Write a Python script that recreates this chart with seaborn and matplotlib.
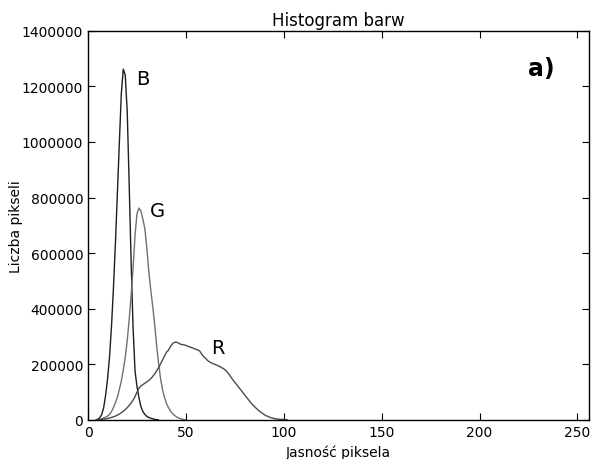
"""Colour histogram (B, G, R channels) recreated with seaborn."""

import matplotlib
matplotlib.use("Agg")
import matplotlib.pyplot as plt
import numpy as np
import pandas as pd
import seaborn as sns

# pixel counts per brightness bin (in thousands), only the non-zero stretch of each channel
b_start = 4
b_counts = [0, 2, 8, 20, 45, 90, 150, 230, 340, 480, 640, 820, 1000, 1175, 1262,
            1240, 1110, 850, 570, 330, 175, 120, 80, 48, 30, 20, 13, 9, 6, 4, 2, 1, 0]

g_start = 5
g_counts = [0, 2, 4, 7, 10, 14, 20, 30, 45, 62, 82, 110, 140, 180, 225, 285, 360,
            450, 545, 665, 742, 762, 752, 722, 688, 620, 535, 470, 410, 345, 270,
            205, 150, 110, 82, 60, 45, 33, 24, 17, 12, 8, 5, 3, 1, 0]

r_start = 5
r_counts = [0, 1, 2, 3, 4, 5, 7, 9, 11, 14, 17, 21, 26, 31, 37, 44, 52, 61, 71, 84,
            100, 114, 122, 127, 132, 137, 142, 148, 156, 165, 176, 188, 201, 215,
            229, 243, 250, 263, 273, 279, 280, 277, 273, 271, 270, 268, 265, 262,
            260, 257, 254, 252, 248, 237, 228, 222, 214, 209, 205, 202, 199, 196,
            193, 189, 185, 180, 173, 164, 154, 144, 135, 126, 117, 108, 99, 90, 81,
            72, 63, 55, 48, 41, 35, 29, 24, 19, 15, 12, 9, 7, 5, 4, 3, 2, 2, 1, 1, 0]

channels = ["B", "G", "R"]
line_colors = {"B": "#1e1e1e", "G": "#707070", "R": "#4a4a4a"}
label_pos = {"B": (24.5, 1228000), "G": (31.6, 752000), "R": (62.7, 262000)}


def to_frame(name, start, counts):
    counts = np.array(counts) * 1000
    return pd.DataFrame({"bin": np.arange(start, start + len(counts)),
                         "count": counts, "channel": name})


df = pd.concat([to_frame("B", b_start, b_counts),
                to_frame("G", g_start, g_counts),
                to_frame("R", r_start, r_counts)], ignore_index=True)

sns.set_style("ticks")
plt.rcParams["font.family"] = ["DejaVu Sans"]
plt.rcParams["xtick.direction"] = "in"
plt.rcParams["ytick.direction"] = "in"
plt.rcParams["text.color"] = "black"
plt.rcParams["axes.labelcolor"] = "black"

fig = plt.figure(figsize=(5.91, 4.60), dpi=100)
ax = fig.add_axes([0.149, 0.085, 0.848, 0.846])

sns.lineplot(data=df, x="bin", y="count", hue="channel", palette=line_colors,
             hue_order=channels, linewidth=1.0, legend=False, ax=ax)

for ch in channels:
    ax.text(*label_pos[ch], ch, fontsize=14, ha="left", va="center")
ax.text(0.905, 0.905, "a)", transform=ax.transAxes, fontsize=17,
        fontweight="bold", ha="center", va="center")

ax.set_xlim(0, 256)
ax.set_ylim(0, 1400000)
ax.set_xticks([0, 50, 100, 150, 200, 250])
ax.set_yticks(np.arange(0, 1400001, 200000))
ax.ticklabel_format(axis="y", style="plain", useOffset=False)
ax.tick_params(which="both", top=True, right=True, length=5, width=0.8,
               labelsize=10, color="black", labelcolor="black")
for side in ax.spines.values():
    side.set_color("black")
    side.set_linewidth(1.0)

ax.set_title("Histogram barw", fontsize=12, pad=4)
ax.set_xlabel("Jasność piksela", fontsize=10)
ax.set_ylabel("Liczba pikseli", fontsize=10, labelpad=-1)

fig.savefig("out.png", dpi=100)
